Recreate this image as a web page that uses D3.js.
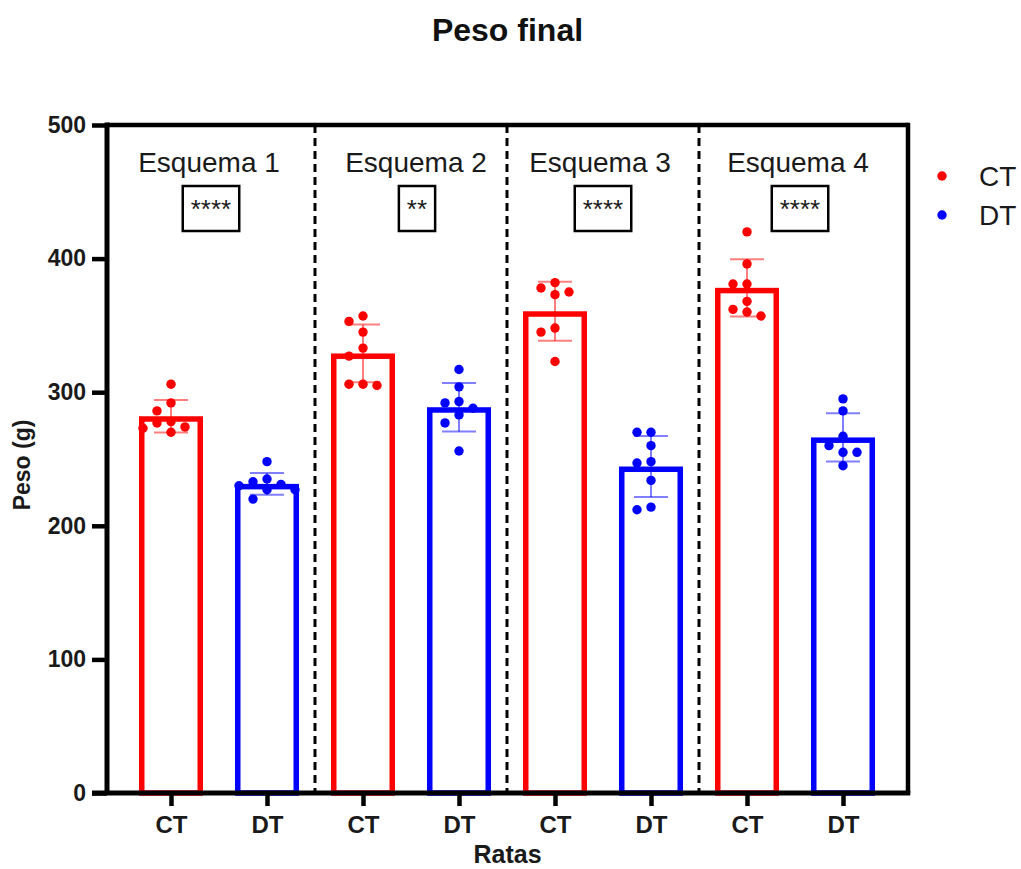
<!DOCTYPE html>
<html>
<head>
<meta charset="utf-8">
<script src="https://cdn.jsdelivr.net/npm/d3@7"></script>
<style>
  html, body { margin: 0; padding: 0; background: #fff; }
  svg { display: block; font-family: "Liberation Sans", Arial, Helvetica, sans-serif; }
</style>
</head>
<body>
<svg id="chart" width="1021" height="869"></svg>
<script>
// Final body weight (g) per rat, by scheme and treatment group
const schemes = ["Esquema 1", "Esquema 2", "Esquema 3", "Esquema 4"];
const significance = ["****", "**", "****", "****"];
const groups = ["CT", "DT"];
const yTicks = [0, 100, 200, 300, 400, 500];

const ct1 = [306, 292, 286, 278, 277, 274, 273, 270];
const dt1 = [248, 235, 233, 231, 230, 227, 227, 220];
const ct2 = [357, 353, 345, 333, 327, 306, 306, 305];
const dt2 = [317, 304, 293, 292, 288, 283, 277, 256];
const ct3 = [382, 378, 375, 373, 348, 345, 323];
const dt3 = [270, 270, 260, 248, 247, 234, 214, 212];
const ct4 = [420, 396, 381, 381, 368, 362, 360, 357];
const dt4 = [295, 286, 267, 260, 255, 255, 245];

const seriesValues = [ct1, dt1, ct2, dt2, ct3, dt3, ct4, dt4];
const colors = { CT: "#ff0000", DT: "#0000ff" };

// one entry per bar: scheme index, group, raw values, mean and SD
const bars = seriesValues.map((vals, i) => ({
  key: "b" + i,
  scheme: Math.floor(i / 2),
  group: groups[i % 2],
  values: vals,
  mean: d3.mean(vals),
  sd: d3.deviation(vals)
}));

const svg = d3.select("#chart");
const plot = { left: 107, right: 908, top: 125, bottom: 793 };
const textColor = "#1a1a1a";

const x = d3.scalePoint()
  .domain(bars.map(b => b.key))
  .range([plot.left - 1, plot.right])
  .padding(0.677);

const y = d3.scaleLinear().domain([0, 500]).range([plot.bottom, plot.top]);

// title
svg.append("text")
  .attr("x", (plot.left + plot.right) / 2)
  .attr("y", 41)
  .attr("text-anchor", "middle")
  .attr("font-size", 32)
  .attr("font-weight", "bold")
  .attr("fill", "#111")
  .text("Peso final");

// dashed separators between schemes
const separators = [1, 2, 3].map(s => (x("b" + (2 * s - 1)) + x("b" + (2 * s))) / 2);
svg.selectAll("line.sep").data(separators).enter().append("line")
  .attr("class", "sep")
  .attr("x1", d => d).attr("x2", d => d)
  .attr("y1", plot.top).attr("y2", plot.bottom)
  .attr("stroke", "#000")
  .attr("stroke-width", 3)
  .attr("stroke-dasharray", "8,5");

// bars: outline drawn inside the bar's extent, white fill
const barOuter = 64;
const bw = 5.5;
svg.selectAll("rect.bar").data(bars).enter().append("rect")
  .attr("class", "bar")
  .attr("x", d => x(d.key) - barOuter / 2 + bw / 2)
  .attr("y", d => y(d.mean) + bw / 2)
  .attr("width", barOuter - bw)
  .attr("height", d => y(0) - y(d.mean) - bw / 2)
  .attr("fill", "#fff")
  .attr("stroke", d => colors[d.group])
  .attr("stroke-width", bw);

// error bars: mean ± SD
const capW = 34;
const eb = svg.selectAll("g.err").data(bars).enter().append("g")
  .attr("class", "err")
  .attr("stroke", d => colors[d.group])
  .attr("stroke-opacity", 0.5)
  .attr("stroke-width", 2);
eb.append("line")
  .attr("x1", d => x(d.key)).attr("x2", d => x(d.key))
  .attr("y1", d => y(d.mean + d.sd)).attr("y2", d => y(d.mean - d.sd));
eb.append("line")
  .attr("x1", d => x(d.key) - capW / 2).attr("x2", d => x(d.key) + capW / 2)
  .attr("y1", d => y(d.mean + d.sd)).attr("y2", d => y(d.mean + d.sd));
eb.append("line")
  .attr("x1", d => x(d.key) - capW / 2).attr("x2", d => x(d.key) + capW / 2)
  .attr("y1", d => y(d.mean - d.sd)).attr("y2", d => y(d.mean - d.sd));

// individual points, spread sideways when they would overlap
const r = 4.7;
const dx = 14;
function spread(b) {
  const placed = [];
  const sorted = b.values.slice().sort((a, c) => c - a);
  sorted.forEach(v => {
    const py = y(v);
    const offsets = [0, -dx, dx, -2 * dx, 2 * dx, -3 * dx, 3 * dx];
    let off = offsets.find(o => placed.every(p => Math.hypot(p.ox - o, p.py - py) >= 2 * r + 0.5));
    if (off === undefined) off = 0;
    placed.push({ v, py, ox: off });
  });
  return placed.map(p => ({ cx: x(b.key) + p.ox, cy: p.py, group: b.group }));
}
const pts = bars.flatMap(spread);
svg.selectAll("circle.pt").data(pts).enter().append("circle")
  .attr("class", "pt")
  .attr("cx", d => d.cx).attr("cy", d => d.cy).attr("r", r)
  .attr("fill", d => colors[d.group]);

// frame: top and right borders
svg.append("line")
  .attr("x1", plot.left).attr("x2", plot.right)
  .attr("y1", plot.top).attr("y2", plot.top)
  .attr("stroke", "#000").attr("stroke-width", 4.5);
svg.append("line")
  .attr("x1", plot.right).attr("x2", plot.right)
  .attr("y1", plot.top - 2.25).attr("y2", plot.bottom)
  .attr("stroke", "#000").attr("stroke-width", 4.5);

// y axis
const yAxis = svg.append("g")
  .attr("transform", `translate(${plot.left},0)`)
  .call(d3.axisLeft(y).tickValues(yTicks).tickSize(15).tickSizeOuter(0).tickPadding(6));
yAxis.select(".domain").attr("stroke", "#000").attr("stroke-width", 5)
  .attr("d", `M0,${plot.top - 2.5}V${plot.bottom}`);
yAxis.selectAll(".tick line").attr("stroke", "#000").attr("stroke-width", 4.5);
yAxis.selectAll(".tick text")
  .attr("font-family", "'Liberation Sans', Arial, sans-serif")
  .attr("font-size", 23).attr("font-weight", "bold").attr("fill", textColor);

// x axis
const xAxis = svg.append("g")
  .attr("transform", `translate(0,${plot.bottom})`)
  .call(d3.axisBottom(x).tickSize(13).tickSizeOuter(0).tickPadding(10)
    .tickFormat(k => bars.find(b => b.key === k).group));
xAxis.select(".domain").attr("stroke", "#000").attr("stroke-width", 5)
  .attr("d", `M${plot.left - 15},0H${plot.right + 2.25}`);
xAxis.selectAll(".tick line").attr("stroke", "#000").attr("stroke-width", 4.5);
xAxis.selectAll(".tick text")
  .attr("font-family", "'Liberation Sans', Arial, sans-serif")
  .attr("font-size", 24).attr("font-weight", "bold").attr("fill", textColor);

// axis titles
svg.append("text")
  .attr("x", (plot.left + plot.right) / 2)
  .attr("y", 863)
  .attr("text-anchor", "middle")
  .attr("font-size", 25).attr("font-weight", "bold").attr("fill", textColor)
  .text("Ratas");
svg.append("text")
  .attr("transform", `translate(30,${(plot.top + plot.bottom) / 2 + 6}) rotate(-90)`)
  .attr("text-anchor", "middle")
  .attr("font-size", 23).attr("font-weight", "bold").attr("fill", textColor)
  .text("Peso (g)");

// scheme labels and significance boxes (hand-nudged like the original layout)
const labelNudge = [-10, 5, -3, 3];
const boxNudge = [-8, 6, 0, 5];
const sections = schemes.map((s, i) => ({
  name: s,
  stars: significance[i],
  cx: (x("b" + 2 * i) + x("b" + (2 * i + 1))) / 2,
  i
}));
svg.selectAll("text.scheme").data(sections).enter().append("text")
  .attr("class", "scheme")
  .attr("x", d => d.cx + labelNudge[d.i]).attr("y", 172)
  .attr("text-anchor", "middle")
  .attr("font-size", 28).attr("fill", textColor)
  .text(d => d.name);

const sig = svg.selectAll("g.sig").data(sections).enter().append("g").attr("class", "sig");
sig.append("text")
  .attr("x", d => d.cx + boxNudge[d.i]).attr("y", 218)
  .attr("text-anchor", "middle")
  .attr("font-size", 26).attr("fill", textColor)
  .text(d => d.stars);
sig.each(function (d) {
  const g = d3.select(this);
  const bb = g.select("text").node().getBBox();
  const w = bb.width + 16;
  const cx = d.cx + boxNudge[d.i];
  g.insert("rect", "text")
    .attr("x", cx - w / 2).attr("y", 186)
    .attr("width", w).attr("height", 45)
    .attr("fill", "none").attr("stroke", "#000").attr("stroke-width", 2.5);
});

// legend
const legend = svg.selectAll("g.legend").data(groups).enter().append("g")
  .attr("class", "legend")
  .attr("transform", (d, i) => `translate(942,${176 + i * 39})`);
legend.append("circle").attr("r", r).attr("fill", d => colors[d]);
legend.append("text")
  .attr("x", 37).attr("y", 10)
  .attr("font-size", 28).attr("fill", textColor)
  .text(d => d);
</script>
</body>
</html>
